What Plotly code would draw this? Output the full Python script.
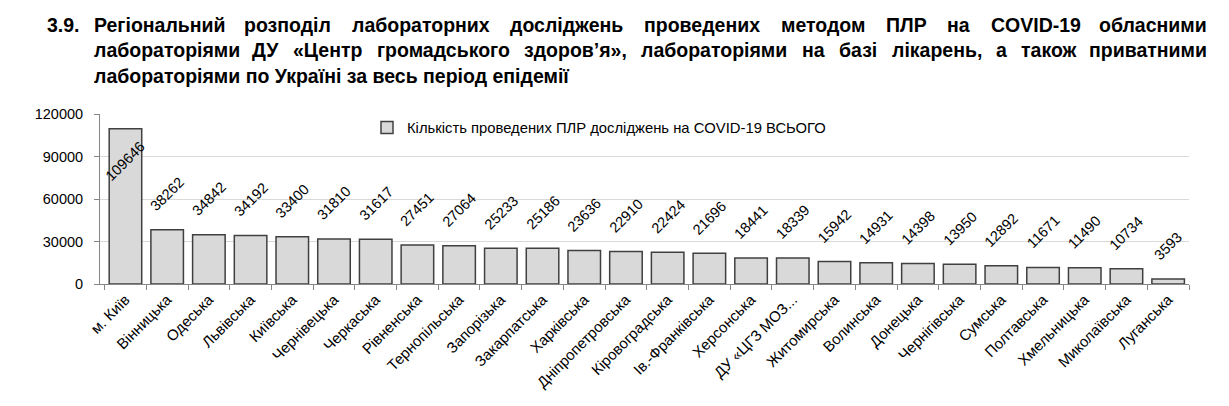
import plotly.graph_objects as go

categories = ["м. Київ", "Вінницька", "Одеська", "Львівська", "Київська", "Чернівецька",
              "Черкаська", "Рівненська", "Тернопільська", "Запорізька", "Закарпатська",
              "Харківська", "Дніпропетровська", "Кіровоградська", "Ів.-Франківська",
              "Херсонська", "ДУ «ЦГЗ МОЗ...", "Житомирська", "Волинська", "Донецька",
              "Чернігівська", "Сумська", "Полтавська", "Хмельницька", "Миколаївська",
              "Луганська"]
values = [109646, 38262, 34842, 34192, 33400, 31810, 31617, 27451, 27064, 25233, 25186,
          23636, 22910, 22424, 21696, 18441, 18339, 15942, 14931, 14398, 13950, 12892,
          11671, 11490, 10734, 3593]
series_name = "Кількість проведених ПЛР досліджень на COVID-19 ВСЬОГО"
y_ticks = [0, 30000, 60000, 90000, 120000]

title_number = "3.9."
title_line1 = "Регіональний розподіл лабораторних досліджень проведених методом ПЛР на COVID-19 обласними"
title_line2 = "лабораторіями ДУ «Центр громадського здоров’я», лабораторіями на базі лікарень, а також приватними"
title_line3 = "лабораторіями по Україні за весь період епідемії"

W, H = 1229, 406
L, R, T, B = 100, 40, 114, 122
PW, PH = W - L - R, H - T - B
YMAX = 120000

FONT = "'Liberation Sans', Arial, sans-serif"
TSIZE = 19.5

# --- approximate text width for justified title lines ---
_W = {
    'а': 556, 'б': 611, 'в': 576, 'г': 417, 'д': 640, 'е': 556, 'є': 556, 'ж': 885,
    'з': 503, 'и': 618, 'і': 278, 'ї': 278, 'й': 618, 'к': 514, 'л': 611, 'м': 750,
    'н': 618, 'о': 611, 'п': 618, 'р': 611, 'с': 556, 'т': 458, 'у': 556, 'ф': 885,
    'х': 556, 'ц': 634, 'ч': 585, 'ш': 903, 'щ': 920, 'ь': 569, 'ю': 854, 'я': 576,
    'Р': 667, 'Д': 698, 'У': 667, 'Ц': 747, 'П': 722, 'Л': 694, 'C': 722, 'O': 778,
    'V': 667, 'I': 278, 'D': 722, '-': 333, '.': 278, ',': 278, '«': 556, '»': 556,
    '’': 278,
}

_pil_font = None
try:
    from PIL import ImageFont
    for p in ["/usr/share/fonts/truetype/liberation/LiberationSans-Bold.ttf",
              "/usr/share/fonts/truetype/liberation2/LiberationSans-Bold.ttf",
              "/usr/share/fonts/liberation/LiberationSans-Bold.ttf",
              "/usr/share/fonts/liberation-sans/LiberationSans-Bold.ttf"]:
        try:
            _pil_font = ImageFont.truetype(p, 100)
            break
        except Exception:
            pass
except Exception:
    _pil_font = None


def text_width(s, size):
    if _pil_font is not None:
        return _pil_font.getlength(s) * size / 100.0
    return sum(_W.get(ch, 556) for ch in s) * size / 1000.0


def px_x(p):
    return (p - L) / PW


def px_y(p):
    return (H - B - p) / PH


fig = go.Figure()
fig.add_trace(go.Bar(
    x=categories, y=values, name=series_name,
    marker=dict(color="#d9d9d9", line=dict(color="#404040", width=1.5)),
    showlegend=True,
))

annotations = []
# data labels
for c, v in zip(categories, values):
    inside = v > 0.8 * YMAX
    annotations.append(dict(
        x=c, y=v, xref="x", yref="y", text=str(v), showarrow=False,
        textangle=-45, xanchor="center",
        yanchor="top" if inside else "bottom",
        yshift=-7 if inside else 13,
        font=dict(family=FONT, size=14.5, color="#000000"),
    ))

tfont = dict(family=FONT, size=TSIZE, color="#000000", weight="bold")


def add_justified(line, x0, x1, ypix):
    words = line.split(" ")
    widths = [text_width(w, TSIZE) for w in words]
    gap = (x1 - x0 - sum(widths)) / (len(words) - 1)
    pos = x0
    for i, (w, wd) in enumerate(zip(words, widths)):
        if i == 0:
            ann = dict(x=px_x(x0), xanchor="left")
        elif i == len(words) - 1:
            ann = dict(x=px_x(x1), xanchor="right")
        else:
            ann = dict(x=px_x(pos + wd / 2), xanchor="center")
        ann.update(y=px_y(ypix), xref="paper", yref="paper", text=w,
                   showarrow=False, yanchor="middle", font=tfont)
        annotations.append(ann)
        pos += wd + gap


annotations.append(dict(
    x=px_x(45), y=px_y(25), xref="paper", yref="paper", text=title_number,
    showarrow=False, xanchor="left", yanchor="middle", font=tfont,
))
add_justified(title_line1, 92, 1209, 25)
add_justified(title_line2, 92, 1209, 50)
annotations.append(dict(
    x=px_x(92), y=px_y(76), xref="paper", yref="paper", text=title_line3,
    showarrow=False, xanchor="left", yanchor="middle", font=tfont,
))

fig.update_layout(
    width=W, height=H,
    margin=dict(l=L, r=R, t=T, b=B, pad=0),
    paper_bgcolor="white", plot_bgcolor="white",
    bargap=0.22,
    font=dict(family=FONT, size=14, color="#000000"),
    legend=dict(x=px_x(367), y=px_y(128), xanchor="left", yanchor="middle",
                bgcolor="rgba(0,0,0,0)", font=dict(family=FONT, size=14.8, color="#000000")),
    annotations=annotations,
    xaxis=dict(
        type="category", tickangle=-45, tickson="boundaries", ticks="outside",
        ticklen=5, tickcolor="#868686", showline=True, linecolor="#868686", linewidth=1,
        showgrid=False, tickfont=dict(family=FONT, size=15, color="#000000"),
    ),
    yaxis=dict(
        range=[0, YMAX], tickvals=y_ticks, ticktext=[str(t) for t in y_ticks],
        ticks="outside", ticklen=5, tickcolor="#868686", showline=True,
        linecolor="#868686", linewidth=1, showgrid=True, gridcolor="#d9d9d9",
        gridwidth=1, zeroline=False, tickfont=dict(family=FONT, size=14.5, color="#000000"),
        ticklabelstandoff=8,
    ),
)

fig.write_html("out.html")
